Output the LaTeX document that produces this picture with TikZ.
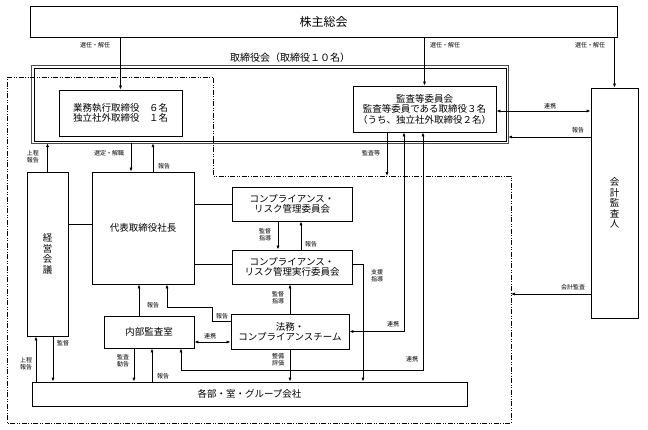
\documentclass[tikz,border=0pt]{standalone}
\usepackage{fontspec}
\setmainfont{Noto Sans CJK JP}
\usetikzlibrary{arrows.meta}

\tikzset{
    box/.style = {draw, line width=0.9pt, align=center, inner sep=1pt,
                  font=\fontsize{9.5}{10.5}\selectfont},
    vbox/.style = {box, font=\fontsize{9.5}{10.6}\selectfont},
    lbl/.style = {font=\fontsize{6}{7}\selectfont, align=center, inner sep=0pt},
    arr/.style = {->, line width=0.75pt},
    darr/.style = {<->, line width=0.75pt},
    conn/.style = {line width=0.75pt},
    region/.style = {line width=0.6pt,
                     dash pattern=on 5pt off 1.5pt on 1pt off 1.5pt on 1pt off 1.5pt},
}

\begin{document}
\begin{tikzpicture}[x=1pt, y=-1pt, >={Latex[length=4pt,width=3.2pt]}]
    \useasboundingbox (0,0) rectangle (648,429);

    % boxes
    \node[box, minimum width=587pt, minimum height=31pt, font=\fontsize{12}{14}\selectfont]
        (soukai) at (323.5,21.5) {株主総会};
    \node[minimum width=476pt, minimum height=77pt, inner sep=0pt] (torishimari) at (270,104.5) {};
    \draw[line width=1.3pt, gray!60!black] (torishimari.north west) rectangle (torishimari.south east);
    \draw[line width=0.8pt] ([shift={(2.3pt,-2.3pt)}]torishimari.north west)
        rectangle ([shift={(-2.3pt,2.3pt)}]torishimari.south east);
    \node[font=\fontsize{10}{12}\selectfont, inner sep=0pt] (t-title) at (290,58)
        {取締役会（取締役１０名）};
    \draw[region] (7,77) -- (213,77) -- (213,176) -- (511,176) -- (511,423) -- (7,423) -- cycle;
    \coordinate (regN) at (387,176);
    \coordinate (regE) at (511,294);

    \node[box, minimum width=123pt, minimum height=46pt] (gyomu) at (120.5,113)
        {業務執行取締役　６名\\独立社外取締役　１名};
    \node[box, minimum width=143pt, minimum height=46pt] (kansa) at (424.5,109)
        {監査等委員会\\監査等委員である取締役３名\\（うち、独立社外取締役２名）};
    \node[vbox, minimum width=47pt, minimum height=230pt] (kaikei) at (614.5,203)
        {会\\計\\監\\査\\人};
    \node[box, minimum width=102pt, minimum height=112pt] (daihyo) at (143,228)
        {代表取締役社長};
    \node[vbox, minimum width=41pt, minimum height=164pt] (keiei) at (47.5,254)
        {経\\営\\会\\議};
    \node[box, minimum width=120pt, minimum height=34pt] (crisk) at (292,204)
        {コンプライアンス・\\リスク管理委員会};
    \node[box, minimum width=120pt, minimum height=34pt] (cjikko) at (292,267)
        {コンプライアンス・\\リスク管理実行委員会};
    \node[box, minimum width=90pt, minimum height=32pt] (naibu) at (149,332)
        {内部監査室};
    \node[box, minimum width=118pt, minimum height=35pt] (houmu) at (290,331.5)
        {法務・\\コンプライアンスチーム};
    \node[box, minimum width=435pt, minimum height=24pt] (kakubu) at (249.5,394)
        {各部・室・グループ会社};

    % shareholders
    \draw[arr] (soukai.south -| gyomu.north) -- (gyomu.north);
    \draw[arr] (soukai.south -| kansa.north) -- (kansa.north);
    \draw[arr] (soukai.south -| kaikei.north) -- (kaikei.north);
    \node[lbl] (l-sen1) at (95,45) {選任・解任};
    \node[lbl] (l-sen2) at (445,45) {選任・解任};
    \node[lbl] (l-sen3) at (590,45) {選任・解任};

    % auditors
    \draw[darr] ([yshift=-2pt]kansa.east) -- ([yshift=-2pt]kansa.east -| kaikei.west);
    \draw[arr] ([yshift=-32.5pt]torishimari.east -| kaikei.west) -- ([yshift=-32.5pt]torishimari.east);
    \draw[arr] (regE -| kaikei.west) -- (regE);
    \draw[arr] (regN |- kansa.south) -- (regN);
    \node[lbl] (l-renkei1) at (550,106) {連携};
    \node[lbl] (l-houkoku1) at (578,130) {報告};
    \node[lbl] (l-kaikei) at (573,287) {会計監査};
    \node[lbl] (l-kansa) at (371,153) {監査等};

    % board and president
    \draw[arr] (keiei.north) -- (keiei.north |- torishimari.south);
    \draw[arr] ([xshift=-12pt]daihyo.north |- torishimari.south) -- ([xshift=-12pt]daihyo.north);
    \draw[arr] ([xshift=10pt]daihyo.north) -- ([xshift=10pt]daihyo.north |- torishimari.south);
    \draw[conn] ([yshift=30pt]keiei.east) -- ([yshift=30pt]keiei.east -| daihyo.west);
    \draw[conn] (crisk.west) -- (crisk.west -| daihyo.east);
    \draw[conn] ([yshift=3pt]cjikko.west) -- ([yshift=3pt]cjikko.west -| daihyo.east);
    \node[lbl] (l-jotei1) at (33,157) {上程\\報告};
    \node[lbl] (l-sentei) at (109,153) {選定・解職};
    \node[lbl] (l-houkoku2) at (164,166) {報告};

    % compliance
    \draw[arr] ([xshift=-14pt]crisk.south) -- ([xshift=-14pt]crisk.south |- cjikko.north);
    \draw[arr] ([xshift=9pt]cjikko.north) -- ([xshift=9pt]cjikko.north |- crisk.south);
    \draw[arr] ([yshift=3pt]cjikko.east) -| ([xshift=113.5pt]kakubu.north);
    \draw[arr] (houmu.north) -- (houmu.north |- cjikko.south);
    \draw[arr] (houmu.south) -- (houmu.south |- kakubu.north);
    \node[lbl] (l-kantoku1) at (265,235) {監督\\指導};
    \node[lbl] (l-houkoku3) at (311,244) {報告};
    \node[lbl] (l-shien) at (377,276) {支援\\指導};
    \node[lbl] (l-kantoku2) at (278,298) {監督\\指導};
    \node[lbl] (l-seibi) at (278,360) {整備\\評価};

    % internal audit
    \draw[arr] ([xshift=-10pt]naibu.north) -- ([xshift=-10pt]naibu.north |- daihyo.south);
    \draw[arr] ([yshift=10.5pt]houmu.west) -- ++(-18,0) -- ++(0,-14) -| ([xshift=24pt]daihyo.south);
    \draw[darr] ([yshift=-10pt]naibu.east) -- ([yshift=-10pt]naibu.east -| houmu.west);
    \draw[darr] ([xshift=-20.5pt]kansa.south) |- (houmu.east);
    \draw[darr] ([xshift=-1.5pt]kansa.south) -- ++(0,238) -| ([xshift=32pt]naibu.south);
    \node[lbl] (l-houkoku4) at (153,305) {報告};
    \node[lbl] (l-houkoku5) at (222,316) {報告};
    \node[lbl] (l-renkei2) at (210,336) {連携};
    \node[lbl] (l-renkei3) at (393,324) {連携};
    \node[lbl] (l-renkei4) at (412,359) {連携};

    % departments
    \draw[arr] ([xshift=-11.5pt]keiei.south |- kakubu.north) -- ([xshift=-11.5pt]keiei.south);
    \draw[arr] ([xshift=5.5pt]keiei.south) -- ([xshift=5.5pt]keiei.south |- kakubu.north);
    \draw[arr] ([xshift=-15pt]naibu.south) -- ([xshift=-15pt]naibu.south |- kakubu.north);
    \draw[arr] ([xshift=3pt]naibu.south |- kakubu.north) -- ([xshift=3pt]naibu.south);
    \node[lbl] (l-jotei2) at (26,364) {上程\\報告};
    \node[lbl] (l-kantoku3) at (63,343) {監督};
    \node[lbl] (l-kansa2) at (123,361) {監査\\勧告};
    \node[lbl] (l-houkoku6) at (163,376) {報告};
\end{tikzpicture}
\end{document}
